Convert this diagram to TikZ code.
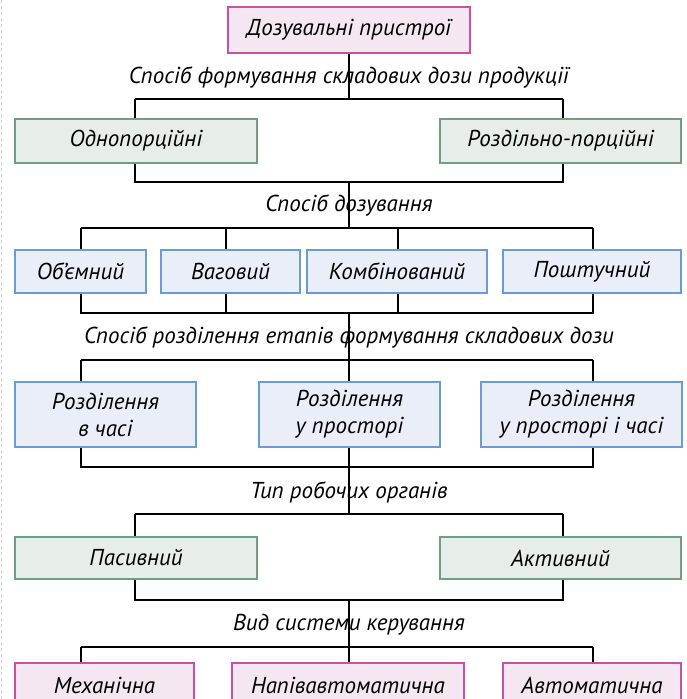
\documentclass[tikz,border=0pt]{standalone}
\usepackage{fontspec}
\setmainfont{PT Sans}
\newfontfamily\labfont{PT Sans Italic}
\definecolor{pinkB}{HTML}{C9529E}
\definecolor{pinkF}{HTML}{F4E7F1}
\definecolor{greenB}{HTML}{6F9E80}
\definecolor{greenF}{HTML}{E7EEE9}
\definecolor{blueB}{HTML}{679CD8}
\definecolor{blueF}{HTML}{E9EEF8}
\definecolor{edgegrey}{HTML}{CFCFCF}
\begin{document}
\begin{tikzpicture}[x=1pt,y=-1pt,
  txt/.style={font=\labfont\fontsize{23}{27}\selectfont, align=center, text=black},
  bx/.style 2 args={txt, draw, line width=2pt, inner sep=0pt, minimum width=#1pt, minimum height=#2pt},
  pinkbox/.style={fill=pinkF, draw=pinkB},
  greenbox/.style={fill=greenF, draw=greenB},
  bluebox/.style={fill=blueF, draw=blueB},
  conn/.style={line width=1.2pt, black},
  lab/.style={txt, inner sep=0pt}]
\useasboundingbox (0,0) rectangle (686,699);
\fill[white] (0,0) rectangle (686,699);
\draw[edgegrey, line width=1pt, dash pattern=on 3pt off 3pt] (1,0) -- (1,699);

% boxes
\node[bx={242}{46}, pinkbox] (top) at (349,30) {Дозувальні пристрої};

\node[bx={242}{44}, greenbox] (g1) at (136,141) {Однопорційні};
\node[bx={241}{44}, greenbox] (g2) at (560.5,141) {Роздільно-порційні};

\node[bx={131}{43}, bluebox] (v1) at (80.5,271.5) {Об’ємний};
\node[bx={139}{43}, bluebox] (v2) at (230.5,271.5) {Ваговий};
\node[bx={180}{43}, bluebox] (v3) at (397,271.5) {Комбінований};
\node[bx={178}{43}, bluebox] (v4) at (592,271.5) {Поштучний};

\node[bx={181}{65}, bluebox] (r1) at (105.5,414.5) {Розділення\\в часі};
\node[bx={181}{65}, bluebox] (r2) at (349.5,414.5) {Розділення\\у просторі};
\node[bx={201}{65}, bluebox] (r3) at (581.5,414.5) {Розділення\\у просторі і часі};

\node[bx={242}{42}, greenbox] (p1) at (136,558) {Пасивний};
\node[bx={241}{42}, greenbox] (p2) at (560.5,558) {Активний};

\node[bx={179}{44}, pinkbox] (m1) at (104.5,685) {Механічна};
\node[bx={232}{44}, pinkbox] (m2) at (348,685) {Напівавтоматична};
\node[bx={178}{44}, pinkbox] (m3) at (592,685) {Автоматична};

% bus coordinates
\coordinate (a1L) at (135,99);  \coordinate (a1R) at (563,99);
\coordinate (a2L) at (135,182); \coordinate (a2R) at (563,182); \coordinate (a2C) at (349,182);
\coordinate (a3L) at (81,228);  \coordinate (a3R) at (593,228); \coordinate (a3C) at (349,228);
\coordinate (a3b) at (226,228); \coordinate (a3c) at (398,228);
\coordinate (a4L) at (81,313);  \coordinate (a4R) at (593,313); \coordinate (a4C) at (349,313);
\coordinate (a5L) at (81,360);  \coordinate (a5R) at (593,360); \coordinate (a5C) at (349,360);
\coordinate (a6L) at (81,467);  \coordinate (a6R) at (593,467); \coordinate (a6C) at (349,467);
\coordinate (a7L) at (135,514); \coordinate (a7R) at (563,514); \coordinate (a7C) at (349,514);
\coordinate (a8L) at (135,600); \coordinate (a8R) at (563,600); \coordinate (a8C) at (349,600);
\coordinate (a9L) at (81,647);  \coordinate (a9R) at (593,647); \coordinate (a9C) at (349,647);

% connectors
\draw[conn] (top.south) -- (top.south |- a1L);
\draw[conn] (a1L) -- (a1R);
\draw[conn] (a1L) -- (a1L |- g1.north);
\draw[conn] (a1R) -- (a1R |- g2.north);

\draw[conn] (a2L |- g1.south) -- (a2L) -- (a2R) -- (a2R |- g2.south);
\draw[conn] (a2C) -- (a3C);
\draw[conn] (a3L) -- (a3R);
\draw[conn] (a3L) -- (a3L |- v1.north);
\draw[conn] (a3b) -- (a3b |- v2.north);
\draw[conn] (a3c) -- (a3c |- v3.north);
\draw[conn] (a3R) -- (a3R |- v4.north);

\draw[conn] (a4L |- v1.south) -- (a4L) -- (a4R) -- (a4R |- v4.south);
\draw[conn] (a3b |- v2.south) -- (a3b |- a4L);
\draw[conn] (a3c |- v3.south) -- (a3c |- a4L);
\draw[conn] (a4C) -- (a5C);
\draw[conn] (a5L) -- (a5R);
\draw[conn] (a5L) -- (a5L |- r1.north);
\draw[conn] (a5C) -- (a5C |- r2.north);
\draw[conn] (a5R) -- (a5R |- r3.north);

\draw[conn] (a6L |- r1.south) -- (a6L) -- (a6R) -- (a6R |- r3.south);
\draw[conn] (a6C |- r2.south) -- (a6C);
\draw[conn] (a6C) -- (a7C);
\draw[conn] (a7L) -- (a7R);
\draw[conn] (a7L) -- (a7L |- p1.north);
\draw[conn] (a7R) -- (a7R |- p2.north);

\draw[conn] (a8L |- p1.south) -- (a8L) -- (a8R) -- (a8R |- p2.south);
\draw[conn] (a8C) -- (a9C);
\draw[conn] (a9L) -- (a9R);
\draw[conn] (a9L) -- (a9L |- m1.north);
\draw[conn] (a9C) -- (a9C |- m2.north);
\draw[conn] (a9R) -- (a9R |- m3.north);

% labels
\node[lab] (l1) at (349,78) {Спосіб формування складових дози продукції};
\node[lab] (l2) at (349,206) {Спосіб дозування};
\node[lab] (l3) at (349,338) {Спосіб розділення етапів формування складових дози};
\node[lab] (l4) at (349,492) {Тип робочих органів};
\node[lab] (l5) at (349,625) {Вид системи керування};
\end{tikzpicture}
\end{document}
